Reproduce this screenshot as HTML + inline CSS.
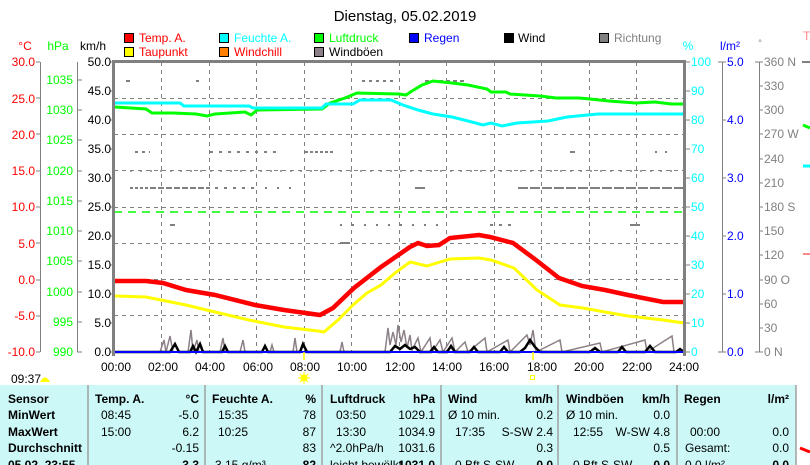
<!DOCTYPE html>
<html><head><meta charset="utf-8"><style>
body{margin:0;width:810px;height:465px;overflow:hidden;background:#fff;font-family:"Liberation Sans",sans-serif}
svg{display:block}
text{font-family:"Liberation Sans",sans-serif}
</style></head><body>
<svg width="810" height="465" viewBox="0 0 810 465" xmlns="http://www.w3.org/2000/svg">
<text x="405" y="21" font-size="15" text-anchor="middle" fill="#000">Dienstag, 05.02.2019</text>
<!-- legend -->
<g font-size="12">
<rect x="124.5" y="33.5" width="9" height="9" fill="#f00" stroke="#000"/><text x="139" y="42" fill="#f00">Temp. A.</text>
<rect x="219.5" y="33.5" width="9" height="9" fill="#0ff" stroke="#000"/><text x="234" y="42" fill="#0ff">Feuchte A.</text>
<rect x="314.5" y="33.5" width="9" height="9" fill="#0f0" stroke="#000"/><text x="329" y="42" fill="#0f0">Luftdruck</text>
<rect x="409.5" y="33.5" width="9" height="9" fill="#00f" stroke="#000"/><text x="424" y="42" fill="#00f">Regen</text>
<rect x="504.5" y="33.5" width="9" height="9" fill="#000" stroke="#000"/><text x="518" y="42" fill="#000">Wind</text>
<rect x="599.5" y="33.5" width="9" height="9" fill="#808080" stroke="#000"/><text x="614" y="42" fill="#808080">Richtung</text>
<rect x="124.5" y="47.5" width="9" height="9" fill="#ff0" stroke="#000"/><text x="139" y="56" fill="#f00">Taupunkt</text>
<rect x="219.5" y="47.5" width="9" height="9" fill="#ff8000" stroke="#000"/><text x="234" y="56" fill="#f00">Windchill</text>
<rect x="314.5" y="47.5" width="9" height="9" fill="#8c8088" stroke="#000"/><text x="329" y="56" fill="#000">Windböen</text>
</g>
<!-- axis unit labels -->
<g font-size="12">
<text x="25" y="50" text-anchor="middle" fill="#f00">°C</text>
<text x="58" y="50" text-anchor="middle" fill="#0f0">hPa</text>
<text x="93" y="50" text-anchor="middle" fill="#000">km/h</text>
<text x="688" y="50" text-anchor="middle" fill="#0ff">%</text>
<text x="730" y="50" text-anchor="middle" fill="#00f">l/m²</text>
<text x="760" y="46" text-anchor="middle" fill="#808080" font-size="9">°</text>
<text x="803" y="40" fill="#f88">T</text>
</g>
<!-- grid -->
<g stroke="#808080" stroke-dasharray="4,4" stroke-width="1">
<line x1="114" x2="684" y1="98.5" y2="98.5"/><line x1="114" x2="684" y1="134.5" y2="134.5"/><line x1="114" x2="684" y1="170.5" y2="170.5"/><line x1="114" x2="684" y1="207.5" y2="207.5"/><line x1="114" x2="684" y1="243.5" y2="243.5"/><line x1="114" x2="684" y1="279.5" y2="279.5"/><line x1="114" x2="684" y1="315.5" y2="315.5"/>
<line y1="62" y2="352" x1="161.5" x2="161.5"/><line y1="62" y2="352" x1="209.5" x2="209.5"/><line y1="62" y2="352" x1="256.5" x2="256.5"/><line y1="62" y2="352" x1="304.5" x2="304.5"/><line y1="62" y2="352" x1="351.5" x2="351.5"/><line y1="62" y2="352" x1="399.5" x2="399.5"/><line y1="62" y2="352" x1="446.5" x2="446.5"/><line y1="62" y2="352" x1="494.5" x2="494.5"/><line y1="62" y2="352" x1="541.5" x2="541.5"/><line y1="62" y2="352" x1="589.5" x2="589.5"/><line y1="62" y2="352" x1="636.5" x2="636.5"/>
</g>
<!-- direction dots -->
<g stroke="#808080" stroke-width="2">
<line x1="130" x2="148" y1="188" y2="188" stroke-dasharray="3,2"/><line x1="150" x2="210" y1="188" y2="188" stroke-dasharray="6,2"/><line x1="215" x2="260" y1="188" y2="188" stroke-dasharray="3,6"/><line x1="265" x2="300" y1="188" y2="188" stroke-dasharray="2,10"/>
<line x1="415" x2="425" y1="188" y2="188"/><line x1="518" x2="684" y1="188" y2="188" stroke-dasharray="10,2"/>
<line x1="130" x2="680" y1="171" y2="171" stroke-dasharray="2,8" stroke-width="1.5"/>
<line x1="135" x2="150" y1="152" y2="152" stroke-dasharray="3,4"/><line x1="210" x2="280" y1="152" y2="152" stroke-dasharray="3,6"/><line x1="305" x2="335" y1="152" y2="152" stroke-dasharray="3,2"/><line x1="570" x2="575" y1="152" y2="152"/><line x1="655" x2="675" y1="152" y2="152" stroke-dasharray="2,8"/>
<line x1="126" x2="130" y1="81" y2="81"/><line x1="196" x2="199" y1="81" y2="81"/><line x1="362" x2="394" y1="81" y2="81" stroke-dasharray="3,4"/><line x1="425" x2="465" y1="81" y2="81" stroke-dasharray="4,3"/>
<line x1="170" x2="175" y1="225" y2="225"/><line x1="340" x2="440" y1="225" y2="225" stroke-dasharray="2,10"/><line x1="490" x2="515" y1="225" y2="225" stroke-dasharray="3,6"/>
<line x1="340" x2="350" y1="243" y2="243"/><line x1="630" x2="640" y1="225" y2="225"/>
</g>
<!-- green dashed -->
<line x1="114" x2="684" y1="212" y2="212" stroke="#0f0" stroke-width="1.5" stroke-dasharray="8,6"/>
<!-- gusts -->
<polyline fill="none" stroke="#8c8088" stroke-width="1.5" points="160,352 164,340 166,352 170,336 173,352 188,352 191,330 193,352 197,340 199,352 220,352 223,338 225,352 240,352 243,340 245,352 270,352 272,345 274,352 293,352 295,338 297,352 340,352 342,342 344,352 385,352 388,328 390,345 393,332 396,345 398,325 401,342 404,330 407,348 410,335 412,350 418,338 421,352 430,338 432,352 440,340 443,352 452,338 455,352 465,342 468,352 485,338 487,352 508,340 510,352 527,335 530,345 533,330 536,352 560,340 562,352 600,343 602,352 645,340 647,352 672,336 674,352"/>
<!-- wind -->
<polyline fill="none" stroke="#000" stroke-width="2.5" points="114,352 170,352 175,344 179,352 190,352 193,346 196,352 200,344 203,352 222,352 225,346 228,352 262,352 265,346 268,352 300,352 303,344 307,352 390,352 395,346 400,349 405,345 410,349 415,347 420,352 430,352 434,347 438,352 447,352 451,346 455,352 470,352 474,347 478,352 500,352 504,347 508,352 520,352 525,348 530,340 535,347 540,352 590,352 595,348 600,352 618,352 622,347 626,352 645,352 650,346 655,352 676,352 680,349 684,352"/>
<!-- rain -->
<line x1="114" x2="684" y1="352" y2="352" stroke="#00f" stroke-width="2"/>
<!-- green pressure -->
<polyline fill="none" stroke="#0f0" stroke-width="3" points="115,107 146,109 152,113 173,113 196,114 207,116 215,114 245,112 251,115 257,110 322,109 330,103 345,98 357,93 399,94 406,95 412,91 422,85 433,81 452,83 468,85 487,89 491,92 506,92 510,94 540,96 556,98 579,98 590,99 609,101 636,103 655,102 671,104 684,104"/>
<!-- cyan humidity -->
<polyline fill="none" stroke="#0ff" stroke-width="3" points="115,103 180,103 184,106 249,106 253,108 322,108 326,104 353,104 360,100 391,100 403,105 418,110 433,114 452,117 468,121 483,125 491,123 502,126 517,123 548,121 567,117 598,114 684,114"/>
<!-- dewpoint -->
<polyline fill="none" stroke="#ff0" stroke-width="3" points="115,296 146,297 186,305 215,312 249,320 284,327 318,331 324,332 338,320 353,305 367,293 381,285 395,273 410,262 427,266 450,259 479,258 491,260 514,268 537,290 560,305 583,308 605,312 628,316 663,320 684,323"/>
<!-- temp -->
<polyline fill="none" stroke="#f00" stroke-width="4.5" points="115,281 146,281 163,283 186,290 215,295 255,305 284,310 320,315 333,308 354,288 381,267 410,247 418,243 427,246 439,245 450,238 479,235 490,237 513,243 536,260 559,278 582,286 605,290 628,295 663,302 684,302"/>
<!-- plot frame -->
<line x1="113.5" x2="113.5" y1="60" y2="356" stroke="#808080" stroke-width="3"/>
<line x1="684.5" x2="684.5" y1="60" y2="356" stroke="#808080" stroke-width="3"/>
<line x1="112" x2="686" y1="61.5" y2="61.5" stroke="#808080" stroke-width="3"/>
<!-- left axes -->
<g stroke="#808080" stroke-width="1">
<line x1="40.5" x2="40.5" y1="62" y2="352"/><line x1="77.5" x2="77.5" y1="62" y2="352"/>
<line x1="722.5" x2="722.5" y1="62" y2="352"/><line x1="759.5" x2="759.5" y1="62" y2="352"/>
</g>
<g font-size="12" fill="#f00" text-anchor="end">
<text x="35" y="66">30.0</text><text x="35" y="103">25.0</text><text x="35" y="139">20.0</text><text x="35" y="175">15.0</text><text x="35" y="211">10.0</text><text x="35" y="248">5.0</text><text x="35" y="284">0.0</text><text x="35" y="320">-5.0</text><text x="35" y="356">-10.0</text>
</g>
<g stroke="#808080"><line x1="36" x2="40" y1="62" y2="62"/><line x1="36" x2="40" y1="98" y2="98"/><line x1="36" x2="40" y1="134" y2="134"/><line x1="36" x2="40" y1="171" y2="171"/><line x1="36" x2="40" y1="207" y2="207"/><line x1="36" x2="40" y1="243" y2="243"/><line x1="36" x2="40" y1="280" y2="280"/><line x1="36" x2="40" y1="316" y2="316"/><line x1="36" x2="40" y1="352" y2="352"/>
<line x1="77" x2="82" y1="80" y2="80"/><line x1="77" x2="82" y1="110" y2="110"/><line x1="77" x2="82" y1="140" y2="140"/><line x1="77" x2="82" y1="171" y2="171"/><line x1="77" x2="82" y1="201" y2="201"/><line x1="77" x2="82" y1="231" y2="231"/><line x1="77" x2="82" y1="261" y2="261"/><line x1="77" x2="82" y1="292" y2="292"/><line x1="77" x2="82" y1="322" y2="322"/><line x1="77" x2="82" y1="352" y2="352"/>
<line x1="110" x2="114" y1="62" y2="62"/><line x1="110" x2="114" y1="91" y2="91"/><line x1="110" x2="114" y1="120" y2="120"/><line x1="110" x2="114" y1="149" y2="149"/><line x1="110" x2="114" y1="178" y2="178"/><line x1="110" x2="114" y1="207" y2="207"/><line x1="110" x2="114" y1="236" y2="236"/><line x1="110" x2="114" y1="265" y2="265"/><line x1="110" x2="114" y1="294" y2="294"/><line x1="110" x2="114" y1="323" y2="323"/><line x1="110" x2="114" y1="352" y2="352"/>
</g>
<g font-size="12" fill="#0f0" text-anchor="end">
<text x="73" y="84">1035</text><text x="73" y="114">1030</text><text x="73" y="144">1025</text><text x="73" y="175">1020</text><text x="73" y="205">1015</text><text x="73" y="235">1010</text><text x="73" y="265">1005</text><text x="73" y="296">1000</text><text x="73" y="326">995</text><text x="73" y="356">990</text>
</g>
<g font-size="12" fill="#000" text-anchor="end">
<text x="111" y="66">50.0</text><text x="111" y="95">45.0</text><text x="111" y="124">40.0</text><text x="111" y="153">35.0</text><text x="111" y="182">30.0</text><text x="111" y="211">25.0</text><text x="111" y="240">20.0</text><text x="111" y="269">15.0</text><text x="111" y="298">10.0</text><text x="111" y="327">5.0</text><text x="111" y="356">0.0</text>
</g>
<!-- right axes -->
<g stroke="#808080">
<line x1="686" x2="690" y1="62" y2="62"/><line x1="686" x2="690" y1="91" y2="91"/><line x1="686" x2="690" y1="120" y2="120"/><line x1="686" x2="690" y1="149" y2="149"/><line x1="686" x2="690" y1="178" y2="178"/><line x1="686" x2="690" y1="207" y2="207"/><line x1="686" x2="690" y1="236" y2="236"/><line x1="686" x2="690" y1="265" y2="265"/><line x1="686" x2="690" y1="294" y2="294"/><line x1="686" x2="690" y1="323" y2="323"/><line x1="686" x2="690" y1="352" y2="352"/>
<line x1="718" x2="726" y1="62" y2="62"/><line x1="722" x2="726" y1="120" y2="120"/><line x1="722" x2="726" y1="178" y2="178"/><line x1="722" x2="726" y1="236" y2="236"/><line x1="722" x2="726" y1="294" y2="294"/><line x1="718" x2="726" y1="352" y2="352"/>
<line x1="755" x2="763" y1="62" y2="62"/><line x1="759" x2="763" y1="86" y2="86"/><line x1="759" x2="763" y1="110" y2="110"/><line x1="759" x2="763" y1="134" y2="134"/><line x1="759" x2="763" y1="159" y2="159"/><line x1="759" x2="763" y1="183" y2="183"/><line x1="759" x2="763" y1="207" y2="207"/><line x1="759" x2="763" y1="231" y2="231"/><line x1="759" x2="763" y1="255" y2="255"/><line x1="759" x2="763" y1="280" y2="280"/><line x1="759" x2="763" y1="304" y2="304"/><line x1="759" x2="763" y1="328" y2="328"/><line x1="755" x2="763" y1="352" y2="352"/>
</g>
<g font-size="12" fill="#0ff">
<text x="691" y="66">100</text><text x="691" y="95">90</text><text x="691" y="124">80</text><text x="691" y="153">70</text><text x="691" y="182">60</text><text x="691" y="211">50</text><text x="691" y="240">40</text><text x="691" y="269">30</text><text x="691" y="298">20</text><text x="691" y="327">10</text><text x="691" y="356">0</text>
</g>
<g font-size="12" fill="#00f">
<text x="727" y="66">5.0</text><text x="727" y="124">4.0</text><text x="727" y="182">3.0</text><text x="727" y="240">2.0</text><text x="727" y="298">1.0</text><text x="727" y="356">0.0</text>
</g>
<g font-size="12" fill="#808080">
<text x="764" y="66">360 N</text><text x="764" y="90">330</text><text x="764" y="114">300</text><text x="764" y="138">270 W</text><text x="764" y="163">240</text><text x="764" y="187">210</text><text x="764" y="211">180 S</text><text x="764" y="235">150</text><text x="764" y="259">120</text><text x="764" y="284">90  O</text><text x="764" y="308">60</text><text x="764" y="332">30</text><text x="764" y="356">0    N</text>
</g>
<!-- right strip bits -->
<line x1="802" x2="810" y1="62" y2="62" stroke="#808080" stroke-width="2"/>
<line x1="803" x2="810" y1="125" y2="128" stroke="#0f0" stroke-width="3"/>
<line x1="803" x2="810" y1="166" y2="166" stroke="#0ff" stroke-width="3"/>
<line x1="803" x2="810" y1="254" y2="254" stroke="#f88" stroke-width="2"/>
<!-- time labels -->
<g font-size="12" fill="#000" text-anchor="middle">
<text x="116" y="371">00:00</text><text x="163" y="371">02:00</text><text x="210" y="371">04:00</text><text x="258" y="371">06:00</text><text x="305" y="371">08:00</text><text x="352" y="371">10:00</text><text x="400" y="371">12:00</text><text x="447" y="371">14:00</text><text x="494" y="371">16:00</text><text x="542" y="371">18:00</text><text x="589" y="371">20:00</text><text x="637" y="371">22:00</text><text x="684" y="371">24:00</text>
</g>
<line x1="304" x2="304" y1="352" y2="360" stroke="#ff0" stroke-width="1.5"/>
<line x1="533" x2="533" y1="352" y2="360" stroke="#ff0" stroke-width="1.5"/>
<circle cx="304" cy="378" r="3.5" fill="#ff0"/>
<g stroke="#ff0" stroke-width="1"><line x1="298" x2="310" y1="378" y2="378"/><line x1="304" x2="304" y1="372" y2="384"/><line x1="300" x2="308" y1="374" y2="382"/><line x1="308" x2="300" y1="374" y2="382"/></g>
<rect x="530.5" y="375.5" width="4" height="4" fill="none" stroke="#ff0"/>
<text x="11" y="383" font-size="12" fill="#000">09:37</text>
<path d="M40 382 Q45 373 50 382 Z" fill="#ff0"/>
<!-- table -->
<rect x="0" y="385" width="796" height="80" fill="#ccf8f8"/>
<g stroke="#a0a0a0" stroke-width="1.5"><line x1="88" x2="88" y1="385" y2="465"/><line x1="205" x2="205" y1="385" y2="465"/><line x1="322" x2="322" y1="385" y2="465"/><line x1="441" x2="441" y1="385" y2="465"/><line x1="558" x2="558" y1="385" y2="465"/><line x1="677" x2="677" y1="385" y2="465"/><line x1="796" x2="796" y1="385" y2="465"/></g>
<g font-size="12" fill="#000">
<g font-weight="bold"><text x="8" y="403">Sensor</text><text x="8" y="419">MinWert</text><text x="8" y="436">MaxWert</text><text x="8" y="452">Durchschnitt</text><text x="8" y="469">05.02. 23:55</text>
<text x="95" y="403">Temp. A.</text><text x="199" y="403" text-anchor="end">°C</text>
<text x="212" y="403">Feuchte A.</text><text x="316" y="403" text-anchor="end">%</text>
<text x="330" y="403">Luftdruck</text><text x="435" y="403" text-anchor="end">hPa</text>
<text x="448" y="403">Wind</text><text x="553" y="403" text-anchor="end">km/h</text>
<text x="566" y="403">Windböen</text><text x="670" y="403" text-anchor="end">km/h</text>
<text x="684" y="403">Regen</text><text x="789" y="403" text-anchor="end">l/m²</text>
<text x="199" y="469" text-anchor="end">-3.3</text><text x="316" y="469" text-anchor="end">82</text><text x="435" y="469" text-anchor="end">1031.0</text><text x="553" y="469" text-anchor="end">0.0</text><text x="670" y="469" text-anchor="end">0.0</text><text x="789" y="469" text-anchor="end">0.0</text></g>
<text x="101" y="419">08:45</text><text x="199" y="419" text-anchor="end">-5.0</text>
<text x="101" y="436">15:00</text><text x="199" y="436" text-anchor="end">6.2</text>
<text x="199" y="452" text-anchor="end">-0.15</text>
<text x="218" y="419">15:35</text><text x="316" y="419" text-anchor="end">78</text>
<text x="218" y="436">10:25</text><text x="316" y="436" text-anchor="end">87</text>
<text x="316" y="452" text-anchor="end">83</text><text x="215" y="469">3.15 g/m³</text>
<text x="336" y="419">03:50</text><text x="435" y="419" text-anchor="end">1029.1</text>
<text x="336" y="436">13:30</text><text x="435" y="436" text-anchor="end">1034.9</text>
<text x="330" y="452">^2.0hPa/h</text><text x="435" y="452" text-anchor="end">1031.6</text><text x="330" y="469">leicht bewölkt</text>
<text x="448" y="419">Ø 10 min.</text><text x="553" y="419" text-anchor="end">0.2</text>
<text x="455" y="436">17:35</text><text x="553" y="436" text-anchor="end">S-SW 2.4</text>
<text x="553" y="452" text-anchor="end">0.3</text><text x="455" y="469">0 Bft S-SW</text>
<text x="566" y="419">Ø 10 min.</text><text x="670" y="419" text-anchor="end">0.0</text>
<text x="573" y="436">12:55</text><text x="670" y="436" text-anchor="end">W-SW 4.8</text>
<text x="670" y="452" text-anchor="end">0.5</text><text x="573" y="469">0 Bft S-SW</text>
<text x="690" y="436">00:00</text><text x="789" y="436" text-anchor="end">0.0</text>
<text x="685" y="452">Gesamt:</text><text x="789" y="452" text-anchor="end">0.0</text><text x="685" y="469">0.0 l/m²</text>
</g>
<line x1="800" x2="810" y1="448" y2="452" stroke="#f00" stroke-width="3"/>
</svg>
</body></html>
